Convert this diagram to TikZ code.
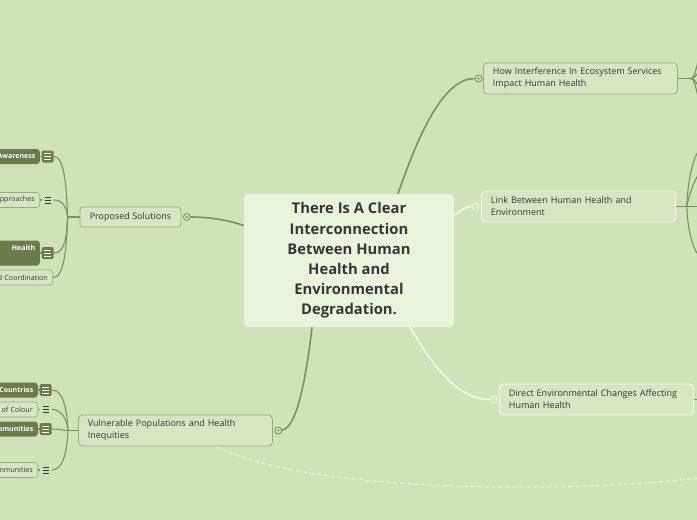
\documentclass[tikz,border=0pt]{standalone}
\usepackage{fontspec}
\setmainfont{Open Sans}
\usetikzlibrary{positioning, backgrounds}
\definecolor{mapbg}{HTML}{D0E2B9}
\definecolor{maptopic}{HTML}{E9F4DD}
\definecolor{mapnode}{HTML}{D6E6C3}
\definecolor{mapline}{HTML}{98A87F}
\definecolor{mapconn}{HTML}{7E8F60}
\definecolor{mapdark}{HTML}{6B7B4C}
\definecolor{mapwhite}{HTML}{F1F7EA}
\definecolor{maptext}{HTML}{363636}

\begin{document}
\begin{tikzpicture}[
  x=1pt, y=-1pt,
  topic/.style={
    fill=maptopic, rounded corners=4pt,
    minimum width=210pt, minimum height=133pt, align=center,
    text=maptext, font=\fontsize{14.8}{20.2}\selectfont\bfseries
  },
  branch/.style={
    draw=mapline, fill=mapnode, rounded corners=4pt, line width=0.8pt,
    minimum height=31pt, text width=175pt, inner xsep=9.5pt, align=left,
    text=maptext, font=\fontsize{9}{12}\selectfont
  },
  wbranch/.style={branch, draw=mapwhite},
  subbranch/.style={
    draw=mapline, fill=mapnode, rounded corners=3pt, line width=0.8pt,
    minimum width=101pt, minimum height=20pt, align=center,
    text=maptext, font=\fontsize{9}{12}\selectfont
  },
  darkleaf/.style={
    fill=mapdark, rounded corners=3pt, text width=110pt, align=right,
    inner xsep=4.5pt, inner ysep=2pt, minimum height=15pt,
    text=white, font=\fontsize{7}{10}\selectfont\bfseries
  },
  lightleaf/.style={
    draw=mapline, fill=mapnode, line width=0.6pt, rounded corners=3pt,
    text width=110pt, align=right, inner xsep=5pt, inner ysep=2pt,
    minimum height=15pt, text=maptext, font=\fontsize{7.1}{10}\selectfont
  },
  noteicon/.style={
    fill=mapdark, rounded corners=2pt, minimum size=12pt, inner sep=0pt,
    path picture={\foreach \dy in {-3,0,3}
      \draw[white, line width=0.9pt] ([shift={(-3.5,\dy)}]path picture bounding box.center) -- ++(7,0);}
  },
  notemark/.style={
    minimum size=12pt, inner sep=0pt,
    path picture={\foreach \dy in {-3,0,3}
      \draw[maptext, line width=0.8pt] ([shift={(-3,\dy)}]path picture bounding box.center) -- ++(6,0);}
  },
  marker/.style={
    circle, draw=mapconn, fill=mapbg, line width=0.9pt, minimum size=7pt, inner sep=0pt,
    path picture={\fill[mapconn] (path picture bounding box.center) circle (1.2pt);}
  },
  wmarker/.style={marker, draw=mapwhite,
    path picture={\fill[mapwhite] (path picture bounding box.center) circle (1.2pt);}
  },
  conn/.style={draw=mapconn, line width=1.6pt},
  wconn/.style={draw=mapwhite, line width=1.6pt},
  leafconn/.style={draw=mapconn, line width=1.1pt},
]

% Background
\useasboundingbox (0,0) rectangle (697,520);
\begin{scope}[on background layer]
  \fill[mapbg] (0,0) rectangle (697,520);
\end{scope}

% Central topic
\node[topic] (center) at (349,260.5) {There Is A Clear\\Interconnection\\Between Human\\Health and\\Environmental\\Degradation.};

% Main branches
\node[branch, anchor=west] (hi) at (483,78.5) {How Interference In Ecosystem Services\\Impact Human Health};
\node[wbranch, anchor=west] (link) at (481,206.5) {Link Between Human Health and\\Environment};
\node[wbranch, anchor=west] (de) at (499,399.5) {Direct Environmental Changes Affecting\\Human Health};
\node[branch, anchor=west] (vp) at (78,430.5) {Vulnerable Populations and Health\\Inequities};
\node[subbranch] (ps) at (130.5,217) {Proposed Solutions};

% Markers
\node[marker, left=0.5pt of hi] (mhi) {};
\node[wmarker, left=1.5pt of link] (mlink) {};
\node[wmarker, left=1.5pt of de] (mde) {};
\node[marker, right=1.5pt of vp] (mvp) {};
\node[marker, right=1.5pt of ps] (mps) {};

% Junctions and free ends
\coordinate (jps) at ([xshift=-12pt]ps.west);
\coordinate (jvp) at ([xshift=-10pt]vp.west);
\coordinate (fhi) at ([xshift=12pt]hi.east);
\coordinate (flink) at ([xshift=11pt]link.east);
\coordinate (dashend) at (699,478);

% Leaves of Proposed Solutions
\node[darkleaf, anchor=east] (aw) at (40,156.5) {Awareness};
\node[noteicon, right=1.5pt of aw] (awn) {};
\node[lightleaf, anchor=east] (ap) at (40,200) {Approaches};
\node[notemark, right=1.5pt of ap] (apn) {};
\node[darkleaf, anchor=east, minimum height=25pt] (he) at (40,253) {Health\\\mbox{}};
\node[noteicon, right=1.5pt of he] (hen) {};
\node[lightleaf, anchor=east] (co) at (53,277.5) {and Coordination};

% Leaves of Vulnerable Populations
\node[darkleaf, anchor=east] (lc) at (38,390) {Countries};
\node[noteicon, right=1.5pt of lc] (lcn) {};
\node[lightleaf, anchor=east] (pc) at (38,409.5) {Communities of Colour};
\node[notemark, right=1.5pt of pc] (pcn) {};
\node[darkleaf, anchor=east] (ic) at (38,429) {Communities};
\node[noteicon, right=1.5pt of ic] (icn) {};
\node[lightleaf, anchor=east] (rc) at (38,470) {Communities};
\node[notemark, right=1.5pt of rc] (rcn) {};

\begin{scope}[on background layer]
  % Central connectors
  \draw[conn] ([xshift=49pt]center.north) .. controls +(22,-64) and +(-34,0) .. (mhi);
  \draw[wconn] ([yshift=45pt]center.east) .. controls +(8,-5.5) and +(-10,0) .. (mlink);
  \draw[wconn] ([xshift=61pt]center.south) .. controls +(20,33) and +(-39,0) .. (mde);
  \draw[conn] ([xshift=-37pt]center.south) .. controls +(-6,53) and +(18,-2) .. (mvp);
  \draw[conn] ([yshift=35pt]center.west) .. controls +(-19,-6.5) and +(19,0) .. (mps);

  % Right fans
  \draw[conn, line width=1.3pt] (hi.east) -- (fhi);
  \foreach \dy in {-24,-8,10,26}
    \draw[leafconn] (fhi) .. controls +(4,0) .. ++(10,\dy);
  \draw[conn, line width=1.3pt] (link.east) -- (flink);
  \draw[leafconn] (flink) .. controls +(1,-30) and +(-6,2) .. ++(14,-57);
  \draw[leafconn] (flink) .. controls +(3,-15) and +(-4,3) .. ++(14,-35);
  \draw[leafconn] (flink) -- ++(14,0);
  \draw[leafconn] (flink) .. controls +(1,28) and +(-6,-2) .. ++(14,50);
  \draw[leafconn] (de.east) -- ++(6,0);

  % Proposed Solutions leaves
  \draw[conn, line width=1.3pt] (jps) -- (ps.west);
  \draw[leafconn] (aw.east) -- (awn.west);
  \draw[leafconn] (ap.east) -- (apn.west);
  \draw[leafconn] (he.east) -- (hen.west);
  \draw[leafconn] (awn.east) .. controls +(11,0) and +(-1,-27) .. (jps);
  \draw[leafconn] (apn.east) .. controls +(10,0) and +(-1,-8) .. (jps);
  \draw[leafconn] (hen.east) .. controls +(11,0) and +(-1,20) .. (jps);
  \draw[leafconn] (co.east) .. controls +(11,0) and +(-1,33) .. (jps);

  % Vulnerable Populations leaves
  \draw[conn, line width=1.3pt] (jvp) -- (vp.west);
  \draw[leafconn] (lc.east) -- (lcn.west);
  \draw[leafconn] (pc.east) -- (pcn.west);
  \draw[leafconn] (ic.east) -- (icn.west);
  \draw[leafconn] (rc.east) -- (rcn.west);
  \draw[leafconn] (lcn.east) .. controls +(11,0) and +(-1,-22) .. (jvp);
  \draw[leafconn] (pcn.east) .. controls +(10,0) and +(-1,-11) .. (jvp);
  \draw[leafconn] (icn.east) .. controls +(8,0) and +(-5,0) .. (jvp);
  \draw[leafconn] (rcn.east) .. controls +(11,0) and +(-1,22) .. (jvp);

  % Dashed relation
  \draw[wconn, line width=1pt, dash pattern=on 4pt off 3pt] ([xshift=138pt]vp.south west) .. controls +(84,44) and +(-149,17) .. (dashend);
\end{scope}

\end{tikzpicture}
\end{document}
